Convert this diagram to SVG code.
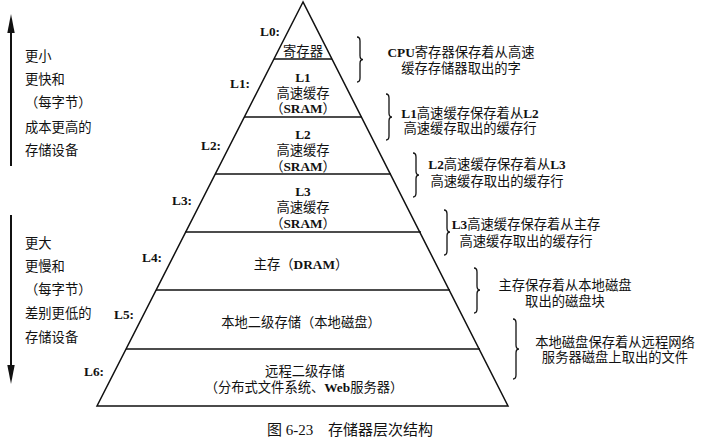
<svg xmlns="http://www.w3.org/2000/svg" width="706" height="445" viewBox="0 0 706 445">
<style>
  .t { font-family: "Liberation Serif", "Noto Sans CJK SC", serif; font-size: 13.3px; fill: #111; dominant-baseline: central; }
  .c { text-anchor: middle; }
  .e { text-anchor: end; }
  .b { font-weight: bold; }
  .ln { stroke: #111; stroke-width: 1.5; fill: none; }
  .br { stroke: #111; stroke-width: 1.3; fill: none; }
  .ar { stroke: #111; stroke-width: 2; }
  .ah { fill: #111; }
  .cap { font-family: "Liberation Serif", "Noto Sans CJK SC", serif; font-size: 15px; fill: #111; dominant-baseline: central; }
</style>
<rect width="706" height="445" fill="#fff"/>

<g id="pyramid">
  <polygon class="ln" points="303,2 97,406 508,406"/>
</g>

<g id="L0">
  <text class="t e b" x="280" y="31">L0:</text>
  <text class="t c" x="303" y="51">寄存器</text>
  <line class="ln" x1="274" y1="59" x2="332" y2="59"/>
</g>
<g id="L1">
  <text class="t e b" x="250" y="83">L1:</text>
  <text class="t c b" x="303" y="77">L1</text>
  <text class="t c" x="303" y="93">高速缓存</text>
  <text class="t c" x="303" y="108">（<tspan class="b">SRAM</tspan>）</text>
  <line class="ln" x1="244" y1="117" x2="362" y2="117"/>
</g>
<g id="L2">
  <text class="t e b" x="221" y="145">L2:</text>
  <text class="t c b" x="303" y="134">L2</text>
  <text class="t c" x="303" y="150">高速缓存</text>
  <text class="t c" x="303" y="166">（<tspan class="b">SRAM</tspan>）</text>
  <line class="ln" x1="215" y1="174" x2="391" y2="174"/>
</g>
<g id="L3">
  <text class="t e b" x="192" y="200">L3:</text>
  <text class="t c b" x="303" y="191">L3</text>
  <text class="t c" x="303" y="207">高速缓存</text>
  <text class="t c" x="303" y="223">（<tspan class="b">SRAM</tspan>）</text>
  <line class="ln" x1="185" y1="232" x2="421" y2="232"/>
</g>
<g id="L4">
  <text class="t e b" x="162" y="257">L4:</text>
  <text class="t c" x="301" y="264">主存（<tspan class="b">DRAM</tspan>）</text>
  <line class="ln" x1="156" y1="290" x2="450" y2="290"/>
</g>
<g id="L5">
  <text class="t e b" x="134" y="314">L5:</text>
  <text class="t c" x="301" y="322">本地二级存储（本地磁盘）</text>
  <line class="ln" x1="126" y1="349" x2="480" y2="349"/>
</g>
<g id="L6">
  <text class="t e b" x="104" y="371">L6:</text>
  <text class="t c" x="305" y="371">远程二级存储</text>
  <text class="t c" x="304" y="387">（分布式文件系统、<tspan class="b">Web</tspan>服务器）</text>
</g>

<g id="note0">
  <path class="br" d="M357,37 q3,0 3,4 V55.5 q0,4 3,4 q-3,0 -3,4 V78 q0,4 -3,4"/>
  <text class="t c" x="461" y="52"><tspan class="b">CPU</tspan>寄存器保存着从高速</text>
  <text class="t c" x="461" y="68">缓存存储器取出的字</text>
</g>
<g id="note1">
  <path class="br" d="M386,94 q3,0 3,4 V113 q0,4 3,4 q-3,0 -3,4 V136 q0,4 -3,4"/>
  <text class="t c" x="470" y="113"><tspan class="b">L1</tspan>高速缓存保存着从<tspan class="b">L2</tspan></text>
  <text class="t c" x="470" y="128">高速缓存取出的缓存行</text>
</g>
<g id="note2">
  <path class="br" d="M413,153 q3,0 3,4 V171 q0,4 3,4 q-3,0 -3,4 V193 q0,4 -3,4"/>
  <text class="t c" x="497" y="164"><tspan class="b">L2</tspan>高速缓存保存着从<tspan class="b">L3</tspan></text>
  <text class="t c" x="497" y="181">高速缓存取出的缓存行</text>
</g>
<g id="note3">
  <path class="br" d="M444,210 q3,0 3,4 V228 q0,4 3,4 q-3,0 -3,4 V251 q0,4 -3,4"/>
  <text class="t c" x="526" y="224"><tspan class="b">L3</tspan>高速缓存保存着从主存</text>
  <text class="t c" x="526" y="241">高速缓存取出的缓存行</text>
</g>
<g id="note4">
  <path class="br" d="M474,268 q3,0 3,4 V286 q0,4 3,4 q-3,0 -3,4 V309 q0,4 -3,4"/>
  <text class="t c" x="565" y="285">主存保存着从本地磁盘</text>
  <text class="t c" x="565" y="301">取出的磁盘块</text>
</g>
<g id="note5">
  <path class="br" d="M513,319 q3,0 3,4 V345 q0,4 3,4 q-3,0 -3,4 V375 q0,4 -3,4"/>
  <text class="t c" x="615" y="342">本地磁盘保存着从远程网络</text>
  <text class="t c" x="615" y="357">服务器磁盘上取出的文件</text>
</g>

<g id="up-label">
  <text class="t" x="25" y="56">更小</text>
  <text class="t" x="25" y="79">更快和</text>
  <text class="t" x="25" y="102">（每字节）</text>
  <text class="t" x="25" y="127">成本更高的</text>
  <text class="t" x="25" y="150">存储设备</text>
</g>
<g id="down-label">
  <text class="t" x="25" y="243">更大</text>
  <text class="t" x="25" y="266">更慢和</text>
  <text class="t" x="25" y="289">（每字节）</text>
  <text class="t" x="25" y="313">差别更低的</text>
  <text class="t" x="25" y="337">存储设备</text>
</g>

<g id="connectors">
  <line class="ar" x1="11" y1="166" x2="11" y2="30"/>
  <polygon class="ah" points="11,14 7.3,33 14.7,33"/>
  <line class="ar" x1="11" y1="215" x2="11" y2="368"/>
  <polygon class="ah" points="11,384 7.3,365 14.7,365"/>
</g>

<text class="cap" x="267" y="430">图 6-23</text>
<text class="cap" x="328" y="430">存储器层次结构</text>
</svg>
